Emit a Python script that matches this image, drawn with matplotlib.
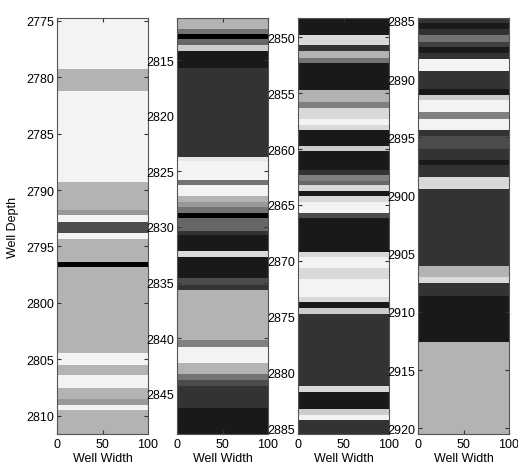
import numpy as np
import matplotlib
matplotlib.use("Agg")
import matplotlib.pyplot as plt

plt.rcParams['font.family'] = ['Liberation Sans', 'DejaVu Sans']

# layer tops (depth) and gray shade (0 black .. 1 white) for each of the 4 columns
tops_1 = [2774.0, 2779.27, 2781.2, 2789.25, 2791.8, 2792.25, 2792.8, 2793.8, 2794.35,
          2796.35, 2796.8, 2804.4, 2805.45, 2806.4, 2807.5, 2808.5, 2809.0, 2809.5]
shade_1 = [0.95, 0.70, 0.95, 0.70, 0.60, 0.95, 0.30, 0.95, 0.70,
           0.0, 0.70, 0.95, 0.70, 0.95, 0.70, 0.60, 0.95, 0.70]

tops_2 = [2811.0, 2812.2, 2812.7, 2813.1, 2813.66, 2814.2, 2815.7, 2823.67, 2824.1,
          2825.76, 2826.26, 2827.24, 2827.75, 2828.2, 2828.7, 2829.2, 2830.35, 2830.7,
          2832.15, 2832.7, 2834.6, 2835.2, 2835.7, 2840.17, 2840.77, 2842.25, 2843.23,
          2843.73, 2844.27, 2846.3]
shade_2 = [0.70, 0.45, 0.0, 0.40, 0.80, 0.10, 0.20, 0.90, 0.95,
           0.45, 0.95, 0.70, 0.60, 0.45, 0.0, 0.40, 0.20, 0.10,
           0.85, 0.10, 0.30, 0.20, 0.70, 0.50, 0.95, 0.70, 0.45,
           0.30, 0.20, 0.10]

tops_3 = [2848.0, 2849.76, 2850.73, 2851.24, 2851.82, 2852.33, 2854.69, 2855.75, 2856.34,
          2857.35, 2857.81, 2858.32, 2859.7, 2860.18, 2861.86, 2862.3, 2862.83, 2863.24,
          2863.72, 2864.2, 2864.72, 2865.7, 2866.2, 2869.17, 2869.7, 2870.66, 2871.64,
          2873.27, 2873.7, 2874.2, 2874.75, 2881.2, 2881.73, 2883.3, 2883.8, 2884.25]
shade_3 = [0.10, 0.85, 0.20, 0.70, 0.45, 0.10, 0.70, 0.50, 0.85,
           0.95, 0.85, 0.10, 0.80, 0.10, 0.20, 0.50, 0.40, 0.85,
           0.10, 0.85, 0.95, 0.30, 0.10, 0.85, 0.95, 0.85, 0.95,
           0.85, 0.10, 0.80, 0.20, 0.85, 0.10, 0.80, 0.95, 0.20]

tops_4 = [2884.5, 2885.17, 2885.69, 2886.17, 2886.77, 2887.25, 2887.74, 2888.26, 2889.26,
          2890.83, 2891.34, 2891.83, 2892.82, 2893.4, 2894.34, 2894.88, 2895.97, 2896.97,
          2897.4, 2898.45, 2899.46, 2906.05, 2907.0, 2907.56, 2908.6, 2912.6]
shade_4 = [0.20, 0.10, 0.20, 0.45, 0.25, 0.10, 0.20, 0.95, 0.20,
           0.10, 0.80, 0.95, 0.50, 0.95, 0.20, 0.30, 0.20, 0.10,
           0.20, 0.85, 0.20, 0.70, 0.85, 0.20, 0.10, 0.70]

# visible depth window of each column
depth_lims = [(2774.8, 2811.6), (2811.25, 2848.6), (2848.3, 2885.5), (2884.77, 2920.5)]
depth_ticks = [np.arange(2775, 2811, 5), np.arange(2815, 2846, 5),
               np.arange(2850, 2886, 5), np.arange(2885, 2921, 5)]
width_ticks = [0, 50, 100]

columns = [(tops_1, shade_1), (tops_2, shade_2), (tops_3, shade_3), (tops_4, shade_4)]
lefts = [57, 177, 298, 418]

fig = plt.figure(figsize=(5.18, 4.64), dpi=100)
W, H = 518.0, 464.0

for i, (tops, shade) in enumerate(columns):
    ax = fig.add_axes([lefts[i] / W, 29 / H, 91 / W, 415.7 / H])
    lo, hi = depth_lims[i]
    edges = np.array(tops + [hi + 1])
    C = np.array(shade)[:, None]
    ax.pcolormesh([0, 100], edges, C, cmap='gray', vmin=0, vmax=1, shading='flat')
    ax.set_xlim(0, 100)
    ax.set_ylim(hi, lo)
    ax.set_xticks(width_ticks)
    ax.set_yticks(depth_ticks[i])
    ax.tick_params(direction='in', top=True, right=True, labelsize=9,
                   length=3, color='#333333', pad=2)
    ax.tick_params(axis='x', pad=3)
    for s in ax.spines.values():
        s.set_color('#555555')
        s.set_linewidth(0.8)
    ax.set_xlabel('Well Width', fontsize=9, labelpad=1)
    if i == 0:
        ax.set_ylabel('Well Depth', fontsize=9, labelpad=5)

fig.savefig('out.png', dpi=100)
